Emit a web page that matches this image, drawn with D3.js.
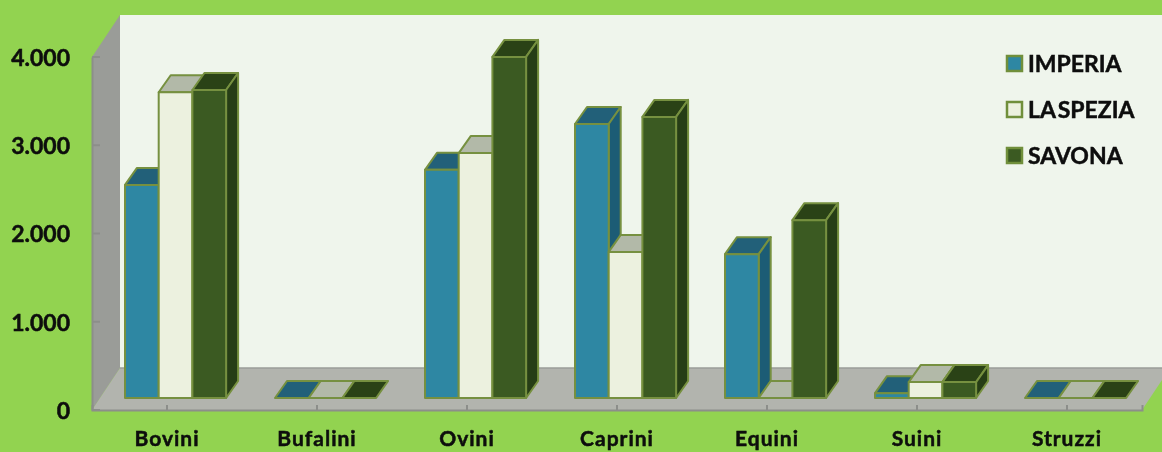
<!DOCTYPE html>
<html>
<head>
<meta charset="utf-8">
<script src="https://cdn.jsdelivr.net/npm/d3@7"></script>
<style>
html, body { margin: 0; padding: 0; background: #92d350; overflow: hidden; }
text { font-family: Lato, "Open Sans", sans-serif; font-weight: 700; fill: #0a0a0a; stroke: #0a0a0a; stroke-width: 0.45px; }
</style>
</head>
<body>
<div id="chart"></div>
<script>
var categories = ["Bovini", "Bufalini", "Ovini", "Caprini", "Equini", "Suini", "Struzzi"];
var seriesNames = ["IMPERIA", "LA SPEZIA", "SAVONA"];
var imperia = [2415, 0, 2585, 3105, 1630, 55, 0];
var laSpezia = [3465, 0, 2775, 1655, 0, 180, 0];
var savona = [3490, 0, 3865, 3185, 2015, 180, 0];
var yTicks = [0, 1000, 2000, 3000, 4000];

var seriesValues = [imperia, laSpezia, savona];
var front = ["#2e87a3", "#ecf1df", "#3a5a20"];
var top_ = ["#226079", "#b2b9a8", "#2b4218"];
var side = ["#1f5c75", "#c9cfbc", "#263d14"];
var edge = "#76903f";

var width = 1162, height = 452;
var svg = d3.select("#chart").append("svg")
	.attr("width", width)
	.attr("height", height)
	.style("display", "block");

// the reference is a soft, upscaled image
svg.append("defs").append("filter").attr("id", "soft")
	.append("feGaussianBlur").attr("stdDeviation", 0.5);
var root = svg.append("g").attr("filter", "url(#soft)");

var x = d3.scaleBand().domain(categories).range([92, 1142]);
var y = d3.scaleLinear().domain([0, 4000]).range([410, 57]);
var fmt = d3.formatLocale({ decimal: ",", thousands: ".", grouping: [3], currency: ["", ""] }).format(",d");

// walls
var depthX = 28, depthY = 42;
var yTop = y(4000), yBase = y(0);
var pts = function(a) { return a.map(function(p) { return p.join(","); }).join(" "); };
root.append("polygon").attr("fill", "#eff5ec")
	.attr("points", pts([[92 + depthX, yTop - depthY], [width, yTop - depthY], [width, yBase - depthY], [92 + depthX, yBase - depthY]]));
root.append("polygon").attr("fill", "#9a9c98")
	.attr("points", pts([[92, yTop], [92 + depthX, yTop - depthY], [92 + depthX, yBase - depthY], [92, yBase]]));
root.append("polygon").attr("fill", "#b2b4ae")
	.attr("points", pts([[92, yBase], [92 + depthX, yBase - depthY], [width, yBase - depthY], [width, yBase - 30], [1142, yBase]]));
root.append("line").attr("x1", 92 + depthX).attr("x2", width).attr("y1", yBase - depthY).attr("y2", yBase - depthY)
	.attr("stroke", "#9a9c98").attr("stroke-width", 1.5);

// axes
var yAxis = root.append("g").attr("transform", "translate(92,0)")
	.call(d3.axisLeft(y).tickValues(yTicks).tickFormat(fmt).tickSize(0).tickPadding(22));
yAxis.select(".domain").attr("stroke", "#8c8e8a").attr("stroke-width", 2);
yAxis.selectAll("text").attr("font-size", 23).attr("y", 1).style("font-weight", 700);
root.append("g").selectAll("line").data(yTicks).join("line")
	.attr("x1", 92).attr("x2", 100)
	.attr("y1", function(d) { return y(d); }).attr("y2", function(d) { return y(d); })
	.attr("stroke", "#8c8e8a").attr("stroke-width", 2);

var xAxis = root.append("g").attr("transform", "translate(0," + yBase + ")")
	.call(d3.axisBottom(x).tickSize(-5).tickPadding(21));
xAxis.select(".domain").attr("stroke", "#8c8e8a").attr("stroke-width", 2);
xAxis.selectAll(".tick line").attr("stroke", "#8c8e8a").attr("stroke-width", 2);
xAxis.selectAll("text").attr("font-size", 21).style("font-weight", 700).style("letter-spacing", "1px");

// bars
var barW = 33.7, skewX = 12, skewY = 17, floorUp = 12;
var barLeft = function(c, s) { return x(c) + x.bandwidth() / 2 - 42 + s * barW; };
var bars = [];
categories.forEach(function(c, i) {
	seriesValues.forEach(function(vals, s) {
		bars.push({ cat: c, s: s, v: vals[i] });
	});
});
var barG = root.append("g").attr("stroke", edge).attr("stroke-width", 2).attr("stroke-linejoin", "round");
bars.forEach(function(b) {
	var x0 = barLeft(b.cat, b.s), x1 = x0 + barW;
	var yB = yBase - floorUp, yT = y(b.v) - floorUp;
	barG.append("polygon").attr("fill", top_[b.s])
		.attr("points", pts([[x0, yT], [x0 + skewX, yT - skewY], [x1 + skewX, yT - skewY], [x1, yT]]));
	if (b.v > 0) {
		barG.append("polygon").attr("fill", side[b.s])
			.attr("points", pts([[x1, yT], [x1 + skewX, yT - skewY], [x1 + skewX, yB - skewY], [x1, yB]]));
		barG.append("rect").attr("fill", front[b.s])
			.attr("x", x0).attr("y", yT).attr("width", barW).attr("height", yB - yT);
	}
});

// legend
var legendY = d3.scalePoint().domain(seriesNames).range([63.5, 155.5]);
var legend = root.append("g").selectAll("g").data(seriesNames).join("g")
	.attr("transform", function(d) { return "translate(1006," + legendY(d) + ")"; });
legend.append("rect")
	.attr("x", 1).attr("y", -7.5).attr("width", 15).attr("height", 15)
	.attr("fill", function(d, i) { return front[i]; })
	.attr("stroke", "#6f8f3a").attr("stroke-width", 2.5);
legend.append("text")
	.attr("x", 22).attr("y", 8)
	.attr("font-size", 23)
	.style("word-spacing", "-3px")
	.text(function(d) { return d; });
</script>
</body>
</html>
